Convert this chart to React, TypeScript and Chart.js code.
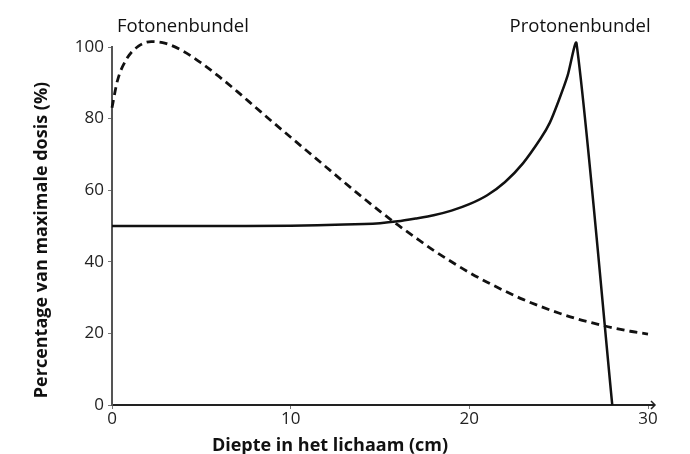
import React, { useEffect, useRef } from "react";
import { Chart, registerables } from "chart.js";

Chart.register(...registerables);

const photonDepth = [0, 0.3, 0.8, 1.5, 2.2, 3, 4, 5, 6, 7, 8, 9, 10, 11, 12, 13, 14, 15, 16, 17, 18, 19, 20, 21, 22, 23, 24, 25, 26, 27, 28, 29, 30];
const photonDose = [83, 90.5, 96.5, 100.3, 101.5, 101, 98.8, 95.5, 91.7, 87.6, 83.3, 79.0, 74.8, 70.6, 66.4, 62.2, 58.1, 54.1, 50.3, 46.7, 43.2, 40.0, 37.0, 34.3, 31.8, 29.5, 27.5, 25.7, 24.1, 22.8, 21.6, 20.6, 19.8];

const protonDepth = [0, 5, 10, 13, 15, 16, 17, 18, 19, 20, 21, 22, 23, 24, 24.5, 25, 25.5, 26, 28];
const protonDose = [50, 50, 50.1, 50.4, 50.8, 51.3, 52.1, 53.0, 54.3, 56.1, 58.6, 62.3, 67.5, 74.5, 78.8, 85, 92, 101, 0];

const xTicks = [0, 10, 20, 30];
const yTicks = [0, 20, 40, 60, 80, 100];

const xTitle = "Diepte in het lichaam (cm)";
const yTitle = "Percentage van maximale dosis (%)";
const photonLabel = "Fotonenbundel";
const protonLabel = "Protonenbundel";

const FONT = "'Open Sans', 'Noto Sans', sans-serif";

export default function App() {
  const ref = useRef<HTMLCanvasElement>(null);

  useEffect(() => {
    if (!ref.current) return;
    const textPlugin = {
      id: "customText",
      afterDraw(chart: any) {
        const ctx = chart.ctx;
        const xs = chart.scales.x;
        const ca = chart.chartArea;
        ctx.save();
        // arrow at end of x axis
        ctx.strokeStyle = "#222";
        ctx.lineWidth = 2;
        ctx.beginPath();
        ctx.moveTo(ca.right - 2, ca.bottom);
        ctx.lineTo(ca.right + 7, ca.bottom);
        ctx.stroke();
        ctx.lineWidth = 1.5;
        ctx.beginPath();
        ctx.moveTo(ca.right + 3, ca.bottom - 4);
        ctx.lineTo(ca.right + 7, ca.bottom);
        ctx.lineTo(ca.right + 3, ca.bottom + 4);
        ctx.stroke();

        ctx.fillStyle = "#111";
        ctx.textAlign = "center";
        ctx.textBaseline = "alphabetic";
        ctx.font = `18.5px ${FONT}`;
        ctx.fillText(photonLabel, xs.getPixelForValue(3.97), 32);
        ctx.fillText(protonLabel, xs.getPixelForValue(26.2), 32);

        ctx.font = `bold 18px ${FONT}`;
        ctx.fillText(xTitle, 330, 451);
        ctx.translate(47, 240);
        ctx.rotate(-Math.PI / 2);
        ctx.fillText(yTitle, 0, 0);
        ctx.restore();
      },
    };

    const chart = new Chart(ref.current, {
      type: "line",
      data: {
        datasets: [
          {
            label: photonLabel,
            data: photonDepth.map((x, i) => ({ x, y: photonDose[i] })),
            borderColor: "#111",
            borderWidth: 2.8,
            borderDash: [8, 5],
            pointRadius: 0,
            cubicInterpolationMode: "monotone",
            clip: false,
            fill: false,
          },
          {
            label: protonLabel,
            data: protonDepth.map((x, i) => ({ x, y: protonDose[i] })),
            borderColor: "#111",
            borderWidth: 2.5,
            pointRadius: 0,
            tension: 0.25,
            clip: false,
            fill: false,
          },
        ],
      },
      options: {
        responsive: false,
        animation: false,
        layout: { padding: { left: 0, right: 42, top: 47, bottom: 0 } },
        plugins: {
          legend: { display: false },
          tooltip: { enabled: false },
        },
        scales: {
          x: {
            type: "linear",
            min: 0,
            max: 30,
            afterBuildTicks: (s: any) => {
              s.ticks = xTicks.map((v) => ({ value: v }));
            },
            afterFit: (s: any) => {
              s.height = 49;
            },
            ticks: {
              color: "#222",
              font: { family: FONT, size: 17 },
              padding: 0,
            },
            grid: {
              drawOnChartArea: false,
              drawTicks: true,
              tickLength: 4,
              color: "#777",
            },
            border: { display: true, color: "#222", width: 2 },
          },
          y: {
            min: 0,
            max: 100,
            afterBuildTicks: (s: any) => {
              s.ticks = yTicks.map((v) => ({ value: v }));
            },
            afterFit: (s: any) => {
              s.width = 112;
            },
            ticks: {
              color: "#222",
              font: { family: FONT, size: 17 },
              padding: 4,
            },
            grid: {
              drawOnChartArea: false,
              drawTicks: true,
              tickLength: 4,
              color: "#777",
            },
            border: { display: true, color: "#555", width: 2 },
          },
        },
      },
      plugins: [textPlugin],
    } as any);
    return () => chart.destroy();
  }, []);

  return (
    <div style={{ position: "fixed", left: 0, top: 0, width: 690, height: 454, background: "#fff" }}>
      <canvas ref={ref} width={690} height={454} style={{ width: 690, height: 454 }} />
    </div>
  );
}
